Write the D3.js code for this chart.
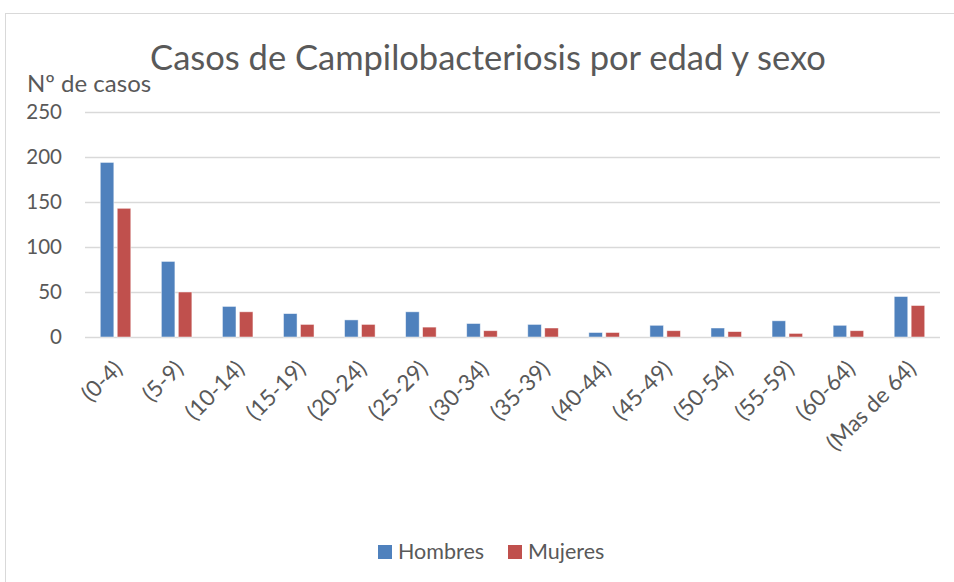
<!DOCTYPE html>
<html lang="es">
<head>
<meta charset="UTF-8">
<title>Casos de Campilobacteriosis</title>
<style>
    body { margin: 0; background: #fff; }
    text { font-family: Lato, "Open Sans", sans-serif; fill: #595959; }
</style>
</head>
<body>
<svg id="chart" width="954" height="582"></svg>
<script src="https://d3js.org/d3.v7.min.js"></script>
<script>
    // data
    const ageGroups = ["(0-4)", "(5-9)", "(10-14)", "(15-19)", "(20-24)", "(25-29)", "(30-34)",
        "(35-39)", "(40-44)", "(45-49)", "(50-54)", "(55-59)", "(60-64)", "(Mas de 64)"];
    const hombres = [194, 84, 34, 26, 19, 28, 15, 14, 5, 13, 10, 18, 13, 45];
    const mujeres = [143, 50, 28, 14, 14, 11, 7, 10, 5, 7, 6, 4, 7, 35];
    const seriesNames = ["Hombres", "Mujeres"];
    const yTicks = [0, 50, 100, 150, 200, 250];

    const colors = { Hombres: "#4f81bd", Mujeres: "#c0504d" };

    const svg = d3.select("#chart");

    // chart frame (runs off the right and bottom edges)
    svg.append("rect")
        .attr("x", 5.5).attr("y", 13.5)
        .attr("width", 960).attr("height", 580)
        .attr("fill", "none").attr("stroke", "#d9d9d9");

    const x0 = d3.scaleBand().domain(ageGroups).range([85, 940]);
    const x1 = d3.scaleBand().domain(seriesNames)
        .range([x0.bandwidth() * 0.25, x0.bandwidth() * 0.75])
        .paddingInner(0.2);
    const y = d3.scaleLinear().domain([0, 250]).range([337, 112]);

    // gridlines
    svg.append("g").selectAll("line")
        .data(yTicks)
        .join("line")
        .attr("x1", 85).attr("x2", 940)
        .attr("y1", d => y(d) + 0.5).attr("y2", d => y(d) + 0.5)
        .attr("stroke", "#d9d9d9").attr("stroke-width", 1.3);

    // y tick labels
    svg.append("g").selectAll("text")
        .data(yTicks)
        .join("text")
        .attr("x", 62).attr("y", d => y(d))
        .attr("dy", "0.36em")
        .attr("text-anchor", "end")
        .style("font-size", "20.5px")
        .text(d => d);

    const rows = ageGroups.map((g, i) => ({ group: g, Hombres: hombres[i], Mujeres: mujeres[i] }));

    // bars
    svg.append("g").selectAll("g")
        .data(rows)
        .join("g")
        .attr("transform", d => "translate(" + x0(d.group) + ",0)")
        .selectAll("rect")
        .data(d => seriesNames.map(s => ({ key: s, value: d[s] })))
        .join("rect")
        .attr("x", d => x1(d.key))
        .attr("width", x1.bandwidth())
        .attr("y", d => y(d.value))
        .attr("height", d => y(0) - y(d.value))
        .attr("fill", d => colors[d.key])
        .attr("stroke", "#fff").attr("stroke-opacity", 0.6).attr("stroke-width", 0.8);

    // x labels, rotated
    svg.append("g").selectAll("text")
        .data(ageGroups)
        .join("text")
        .attr("transform", d => "translate(" + (x0(d) + x0.bandwidth() / 2 - 3) + ",359) rotate(-45)")
        .attr("text-anchor", "end")
        .attr("dy", "0.7em")
        .style("font-size", "22.5px")
        .text(d => d);

    // title
    svg.append("text")
        .attr("x", 488).attr("y", 70)
        .attr("text-anchor", "middle")
        .style("font-size", "34.5px")
        .text("Casos de Campilobacteriosis por edad y sexo");

    // axis title
    svg.append("text")
        .attr("x", 27).attr("y", 92)
        .style("font-size", "24px")
        .text("Nº de casos");

    // legend
    const legend = svg.append("g").selectAll("g")
        .data(seriesNames)
        .join("g")
        .attr("transform", (d, i) => "translate(" + (378 + i * 130) + ",545)");
    legend.append("rect")
        .attr("width", 14).attr("height", 14)
        .attr("fill", d => colors[d]);
    legend.append("text")
        .attr("x", 20).attr("y", 14)
        .style("font-size", "21.5px")
        .text(d => d);
</script>
</body>
</html>
